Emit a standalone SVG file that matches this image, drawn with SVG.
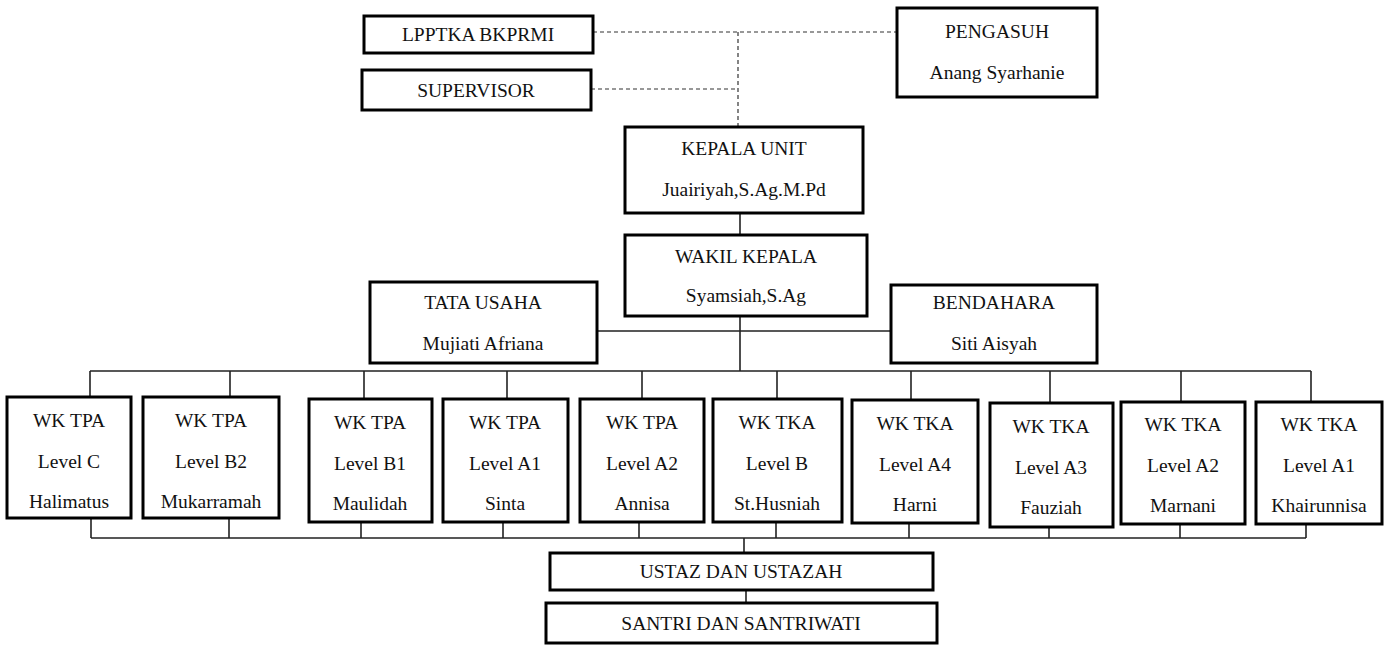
<svg xmlns="http://www.w3.org/2000/svg" width="1390" height="645" viewBox="0 0 1390 645">
<style>
.box{fill:#fff;stroke:#000;stroke-width:3}
.t{font-family:"Liberation Serif","Times New Roman",serif;font-size:19.5px;fill:#111;text-anchor:middle}
.ln{stroke:#222;stroke-width:1.6;fill:none}
.dash{stroke:#333;stroke-width:1.2;stroke-dasharray:4 3;fill:none}
</style>
<rect width="1390" height="645" fill="#fff"/>
<g id="connectors">
<path class="dash" d="M593 32H897M591 89H738M738 32V127"/>
<path class="ln" d="M740 213V235M740 316V371M597 331H891M90 371H1311"/>
<path class="ln" d="M90 371V397M230 371V397M364 371V399M507 371V399M642 371V399M777 371V399M911 371V400M1050 371V403M1181 371V402M1311 371V402"/>
<path class="ln" d="M91 518V538M229 518V538M361 522V538M503 522V538M639 522V538M776 522V538M909 523V538M1049 527V538M1180 524V538M1306 524V538"/>
<path class="ln" stroke-width="2" d="M91 538H1306M744 538V553M746 590V603"/>
</g>
<g id="lpptka"><rect class="box" x="364" y="16" width="229" height="37"/><text class="t" x="478" y="41">LPPTKA BKPRMI</text></g>
<g id="supervisor"><rect class="box" x="362" y="70" width="229" height="40"/><text class="t" x="476" y="97">SUPERVISOR</text></g>
<g id="pengasuh"><rect class="box" x="897" y="8" width="200" height="89"/><text class="t" x="997" y="38">PENGASUH</text><text class="t" x="997" y="79">Anang Syarhanie</text></g>
<g id="kepala"><rect class="box" x="625" y="127" width="238" height="86"/><text class="t" x="744" y="155">KEPALA UNIT</text><text class="t" x="744" y="196">Juairiyah,S.Ag.M.Pd</text></g>
<g id="wakil"><rect class="box" x="625" y="235" width="242" height="81"/><text class="t" x="746" y="263">WAKIL KEPALA</text><text class="t" x="746" y="302">Syamsiah,S.Ag</text></g>
<g id="tatausaha"><rect class="box" x="370" y="282" width="227" height="81"/><text class="t" x="483" y="309">TATA USAHA</text><text class="t" x="483" y="350">Mujiati Afriana</text></g>
<g id="bendahara"><rect class="box" x="891" y="285" width="206" height="78"/><text class="t" x="994" y="309">BENDAHARA</text><text class="t" x="994" y="350">Siti Aisyah</text></g>
<g id="wk1"><rect class="box" x="7" y="397" width="124" height="121"/><text class="t" x="69" y="427">WK TPA</text><text class="t" x="69" y="468">Level C</text><text class="t" x="69" y="508">Halimatus</text></g>
<g id="wk2"><rect class="box" x="143" y="397" width="136" height="121"/><text class="t" x="211" y="427">WK TPA</text><text class="t" x="211" y="468">Level B2</text><text class="t" x="211" y="508">Mukarramah</text></g>
<g id="wk3"><rect class="box" x="309" y="399" width="123" height="123"/><text class="t" x="370" y="429">WK TPA</text><text class="t" x="370" y="470">Level B1</text><text class="t" x="370" y="510">Maulidah</text></g>
<g id="wk4"><rect class="box" x="443" y="399" width="125" height="123"/><text class="t" x="505" y="429">WK TPA</text><text class="t" x="505" y="470">Level A1</text><text class="t" x="505" y="510">Sinta</text></g>
<g id="wk5"><rect class="box" x="580" y="399" width="124" height="123"/><text class="t" x="642" y="429">WK TPA</text><text class="t" x="642" y="470">Level A2</text><text class="t" x="642" y="510">Annisa</text></g>
<g id="wk6"><rect class="box" x="713" y="399" width="129" height="123"/><text class="t" x="777" y="429">WK TKA</text><text class="t" x="777" y="470">Level B</text><text class="t" x="777" y="510">St.Husniah</text></g>
<g id="wk7"><rect class="box" x="852" y="400" width="126" height="123"/><text class="t" x="915" y="430">WK TKA</text><text class="t" x="915" y="471">Level A4</text><text class="t" x="915" y="511">Harni</text></g>
<g id="wk8"><rect class="box" x="990" y="403" width="123" height="124"/><text class="t" x="1051" y="433">WK TKA</text><text class="t" x="1051" y="474">Level A3</text><text class="t" x="1051" y="514">Fauziah</text></g>
<g id="wk9"><rect class="box" x="1121" y="402" width="124" height="122"/><text class="t" x="1183" y="431">WK TKA</text><text class="t" x="1183" y="472">Level A2</text><text class="t" x="1183" y="512">Marnani</text></g>
<g id="wk10"><rect class="box" x="1256" y="402" width="126" height="122"/><text class="t" x="1319" y="431">WK TKA</text><text class="t" x="1319" y="472">Level A1</text><text class="t" x="1319" y="512">Khairunnisa</text></g>
<g id="ustaz"><rect class="box" x="550" y="553" width="383" height="37"/><text class="t" x="741" y="578">USTAZ DAN USTAZAH</text></g>
<g id="santri"><rect class="box" x="546" y="603" width="391" height="40"/><text class="t" x="741" y="630">SANTRI DAN SANTRIWATI</text></g>
</svg>
